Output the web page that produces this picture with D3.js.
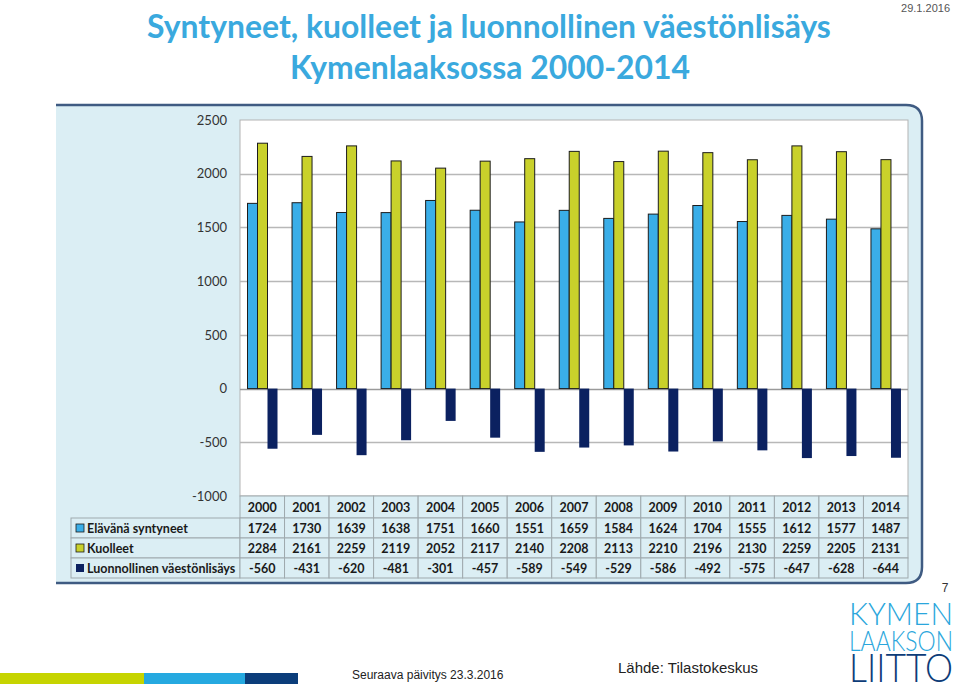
<!DOCTYPE html>
<html>
<head>
<meta charset="utf-8">
<script src="https://cdn.jsdelivr.net/npm/d3@7"></script>
<style>
  html, body { margin: 0; padding: 0; background: #fff; }
  svg { display: block; }
</style>
</head>
<body>
<script>
// ---- DATA ----
const years = ["2000","2001","2002","2003","2004","2005","2006","2007","2008","2009","2010","2011","2012","2013","2014"];
const births = [1724,1730,1639,1638,1751,1660,1551,1659,1584,1624,1704,1555,1612,1577,1487];
const deaths = [2284,2161,2259,2119,2052,2117,2140,2208,2113,2210,2196,2130,2259,2205,2131];
const natural = [-560,-431,-620,-481,-301,-457,-589,-549,-529,-586,-492,-575,-647,-628,-644];
const seriesNames = ["Elävänä syntyneet","Kuolleet","Luonnollinen väestönlisäys"];
const seriesColors = ["#3aaee8","#c9d12b","#0b2160"];
const yTicks = [2500,2000,1500,1000,500,0,-500,-1000];

const W = 959, H = 685;
const svg = d3.select("body").append("svg").attr("width", W).attr("height", H);

// ---- Title ----
const titleColor = "#3aa9de";
const t1 = svg.append("text").attr("x", 489).attr("y", 38).attr("text-anchor","middle")
  .attr("font-family","Lato, 'Open Sans', sans-serif").attr("font-weight","bold")
  .attr("font-size", 30).attr("fill", titleColor)
  .text("Syntyneet, kuolleet ja luonnollinen väestönlisäys");
const len1 = t1.node().getComputedTextLength();
const titleFs = 30 * 684 / len1;
t1.attr("font-size", titleFs);
svg.append("text").attr("x", 490).attr("y", 79).attr("text-anchor","middle")
  .attr("font-family","Lato, 'Open Sans', sans-serif").attr("font-weight","bold")
  .attr("font-size", titleFs).attr("fill", titleColor)
  .text("Kymenlaaksossa 2000-2014");

svg.append("text").attr("x", 950).attr("y", 12).attr("text-anchor","end")
  .attr("font-family","'Liberation Sans Narrow', 'Liberation Sans', Arial, sans-serif")
  .attr("font-size", 11).attr("fill","#555").text("29.1.2016");

// ---- Panel ----
const pL = 56, pT = 105, pR = 922, pB = 583, r = 16;
svg.append("path")
  .attr("d", `M${pL},${pT} H${pR - r} Q${pR},${pT} ${pR},${pT + r} V${pB - r} Q${pR},${pB} ${pR - r},${pB} H${pL} Z`)
  .attr("fill", "#dbeef4");
svg.append("path")
  .attr("d", `M${pL},${pT} H${pR - r} Q${pR},${pT} ${pR},${pT + r} V${pB - r} Q${pR},${pB} ${pR - r},${pB} H${pL}`)
  .attr("fill", "none").attr("stroke", "#3f5b82").attr("stroke-width", 2.5);

// ---- Plot ----
const plotL = 240, plotR = 908, plotT = 120, plotB = 496;
const y = d3.scaleLinear().domain([-1000, 2500]).range([plotB, plotT]);
const x0 = d3.scaleBand().domain(years).range([plotL, plotR]);
const x1 = d3.scaleBand().domain([0,1,2]).range([7.5, 37.5]);

svg.append("rect").attr("x", plotL).attr("y", plotT).attr("width", plotR - plotL).attr("height", plotB - plotT)
  .attr("fill", "#fff").attr("stroke", "#b3b3b3").attr("stroke-width", 1);

const grid = svg.append("g");
grid.selectAll("line").data(yTicks.filter(d => d !== -1000 && d !== 2500)).join("line")
  .attr("x1", plotL).attr("x2", plotR)
  .attr("y1", d => Math.round(y(d)) + 0.5).attr("y2", d => Math.round(y(d)) + 0.5)
  .attr("stroke", d => d === 0 ? "#9a9a9a" : "#b8b8b8").attr("stroke-width", 1.3);

// y axis labels
const yAxis = d3.axisLeft(y).tickValues(yTicks).tickSize(0).tickPadding(0).tickFormat(d => String(d));
const ya = svg.append("g").attr("transform", `translate(227,0)`).call(yAxis);
ya.select(".domain").remove();
ya.selectAll("text").attr("font-family","Lato, 'Open Sans', sans-serif").attr("font-size", 13).attr("fill", "#333")
  .attr("dy", "0.32em");

// bars
const allSeries = [births, deaths, natural];
allSeries.forEach((vals, si) => {
  svg.append("g").selectAll("rect").data(vals).join("rect")
    .attr("x", (d, i) => x0(years[i]) + x1(si))
    .attr("width", x1.bandwidth())
    .attr("y", d => y(Math.max(0, d)))
    .attr("height", d => Math.abs(y(d) - y(0)))
    .attr("fill", seriesColors[si])
    .attr("stroke", si < 2 ? "#1c1c1c" : "none")
    .attr("stroke-width", 1);
});

// ---- Data table ----
const tblL = 71, rowH = 20, hdrT = 496, hdrB = 518;
const tbl = svg.append("g").attr("font-family","Lato, 'Open Sans', sans-serif").attr("font-weight","bold");
const borderC = "#9fa9ad";
tbl.selectAll("rect.h").data(years).join("rect").attr("class","h")
  .attr("x", d => x0(d)).attr("y", hdrT).attr("width", x0.bandwidth()).attr("height", hdrB - hdrT)
  .attr("fill", "#dbeef4").attr("stroke", borderC);
tbl.selectAll("text.h").data(years).join("text").attr("class","h")
  .attr("x", d => x0(d) + x0.bandwidth()/2).attr("y", (hdrT + hdrB)/2 + 4.5)
  .attr("text-anchor","middle").attr("font-size", 12.5).attr("fill","#1a1a1a").text(d => d);

allSeries.forEach((vals, si) => {
  const top = hdrB + si * rowH;
  tbl.append("rect").attr("x", tblL).attr("y", top).attr("width", plotL - tblL).attr("height", rowH)
    .attr("fill", "#dbeef4").attr("stroke", borderC);
  tbl.append("rect").attr("x", tblL + 5).attr("y", top + 6).attr("width", 8).attr("height", 8)
    .attr("fill", seriesColors[si]).attr("stroke", si < 2 ? "#1c1c1c" : "none").attr("stroke-width", 0.8);
  tbl.append("text").attr("x", tblL + 16).attr("y", top + rowH/2 + 4.5)
    .attr("font-size", 12.5).attr("fill", "#1a1a1a").text(seriesNames[si]);
  tbl.append("g").selectAll("rect").data(vals).join("rect")
    .attr("x", (d, i) => x0(years[i])).attr("y", top).attr("width", x0.bandwidth()).attr("height", rowH)
    .attr("fill", "#dbeef4").attr("stroke", borderC);
  tbl.append("g").selectAll("text").data(vals).join("text")
    .attr("x", (d, i) => x0(years[i]) + x0.bandwidth()/2).attr("y", top + rowH/2 + 4.5)
    .attr("text-anchor","middle").attr("font-size", 12.5).attr("fill", "#1a1a1a").text(d => d);
});

// ---- Footer ----
svg.append("text").attr("x", 945).attr("y", 592).attr("text-anchor","middle")
  .attr("font-family","'Liberation Sans', Arial, sans-serif").attr("font-size", 12).attr("fill","#333").text("7");

const strips = [[0,144,"#c6d400"],[144,245,"#25a9e0"],[245,298,"#0b3d7a"]];
svg.selectAll("rect.strip").data(strips).join("rect").attr("class","strip")
  .attr("x", d => d[0]).attr("y", 673).attr("width", d => d[1]-d[0]).attr("height", 11).attr("fill", d => d[2]);

svg.append("text").attr("x", 352).attr("y", 679)
  .attr("font-family","'Liberation Sans Narrow', 'Liberation Sans', Arial, sans-serif")
  .attr("font-size", 12).attr("fill","#222").text("Seuraava päivitys 23.3.2016");
svg.append("text").attr("x", 618).attr("y", 673)
  .attr("font-family","'Liberation Sans', Arial, sans-serif")
  .attr("font-size", 15).attr("fill","#222").text("Lähde: Tilastokeskus");

// logo: natural width fitted to 104px, then stretched vertically to the cap height
const logo = [["KYMEN", 625, 22, "#2aa6dc"], ["LAAKSON", 651, 20, "#2aa6dc"], ["LIITTO", 682, 28, "#0d3c78"]];
logo.forEach(([txt, yy, capH, c]) => {
  const g = svg.append("g").attr("transform", `translate(849,${yy})`);
  const t = g.append("text").attr("x", 0).attr("y", 0)
    .attr("font-family","Lato, 'Open Sans', sans-serif").attr("font-weight", 300)
    .attr("font-size", 20).attr("fill", c).text(txt);
  const fs = 20 * 104 / t.node().getComputedTextLength();
  t.attr("font-size", fs);
  const cap = fs * 0.72;
  g.attr("transform", `translate(849,${yy}) scale(1,${capH / cap})`);
});
</script>
</body>
</html>
